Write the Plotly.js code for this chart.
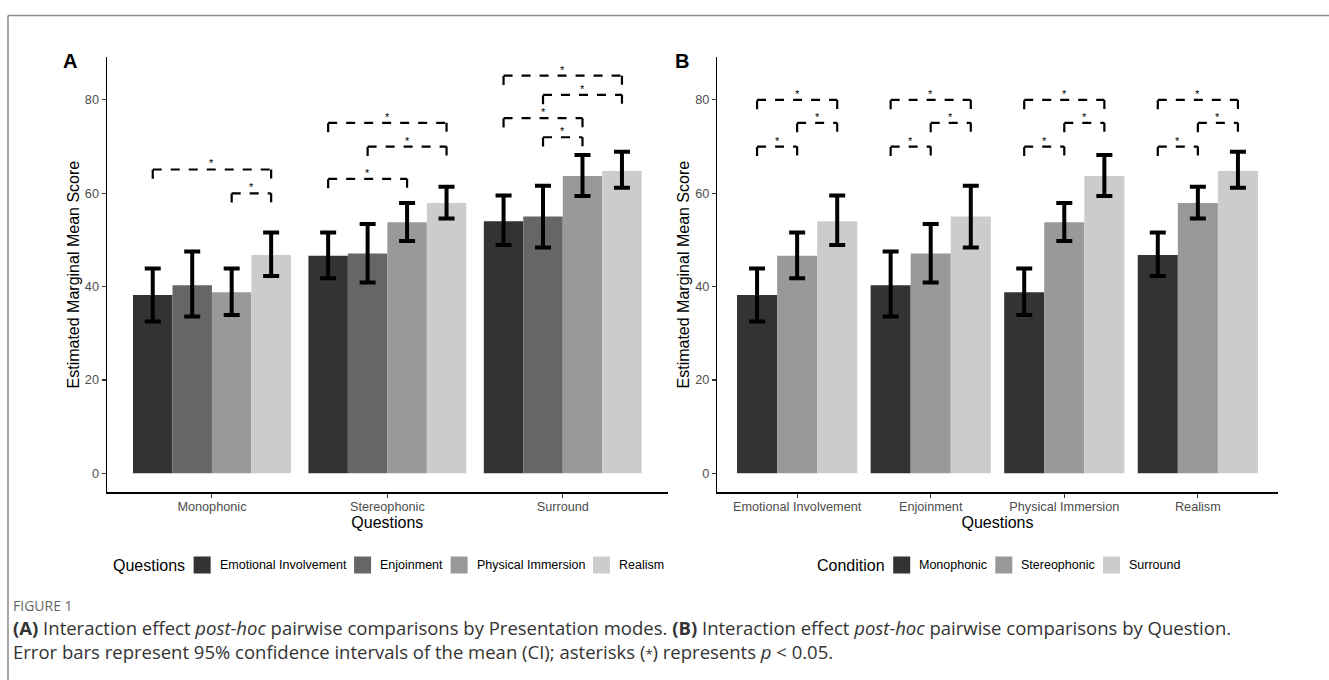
<!DOCTYPE html>
<html><head><meta charset="utf-8">
<script src="https://cdn.plot.ly/plotly-3.0.1.min.js"></script>
<style>html,body{margin:0;padding:0;background:#fff;} #chart{width:1329px;height:680px;}</style>
</head><body><div id="chart"></div>
<script>
// ---------- data ----------
const conditions = ["Monophonic", "Stereophonic", "Surround"];
const questions = ["Emotional Involvement", "Enjoinment", "Physical Immersion", "Realism"];

// estimated marginal means, one array per question, ordered by condition
const meanEmotional  = [38.2, 46.6, 54.0];
const meanEnjoinment = [40.3, 47.1, 55.0];
const meanPhysical   = [38.8, 53.8, 63.7];
const meanRealism    = [46.8, 57.9, 64.8];
// 95% CI bounds
const ciLowEmotional   = [32.5, 41.8, 48.9];
const ciLowEnjoinment  = [33.6, 40.9, 48.4];
const ciLowPhysical    = [33.9, 49.8, 59.4];
const ciLowRealism     = [42.3, 54.6, 61.2];
const ciHighEmotional  = [43.9, 51.6, 59.5];
const ciHighEnjoinment = [47.5, 53.4, 61.6];
const ciHighPhysical   = [43.9, 57.9, 68.2];
const ciHighRealism    = [51.6, 61.4, 68.9];

const yTicks = [0, 20, 40, 60, 80];

// significance brackets, panel A (group = condition, from/to = question index)
const bracketAGroup = [0, 0, 1, 1, 1, 2, 2, 2, 2];
const bracketAFrom  = [0, 2, 0, 1, 0, 0, 1, 0, 1];
const bracketATo    = [3, 3, 3, 3, 2, 3, 3, 2, 2];
const bracketAY     = [65.1, 60.0, 75.1, 70.0, 63.1, 85.2, 81.1, 76.1, 72.0];
// panel B (group = question, from/to = condition index)
const bracketBGroup = [0, 0, 0, 1, 1, 1, 2, 2, 2, 3, 3, 3];
const bracketBFrom  = [0, 1, 0, 0, 1, 0, 0, 1, 0, 0, 1, 0];
const bracketBTo    = [2, 2, 1, 2, 2, 1, 2, 2, 1, 2, 2, 1];
const bracketBY     = [80.0, 75.1, 70.0, 80.0, 75.1, 70.0, 80.0, 75.1, 70.0, 80.0, 75.1, 70.0];

// ---------- styles ----------
const questionColors  = ["#333333", "#666666", "#999999", "#cccccc"];
const conditionColors = ["#333333", "#999999", "#cccccc"];
const FONT = "Liberation Sans, Arial, sans-serif";
const W = 1329, H = 680;
const px = v => v / W;
const py = v => 1 - v / H;
const TIP = 2.0;   // bracket tip length (data units)

const means  = [meanEmotional, meanEnjoinment, meanPhysical, meanRealism];
const ciLow  = [ciLowEmotional, ciLowEnjoinment, ciLowPhysical, ciLowRealism];
const ciHigh = [ciHighEmotional, ciHighEnjoinment, ciHighPhysical, ciHighRealism];

const traces = [];
const errStyle = (hi, lo, m) => ({
  type: 'data', symmetric: false,
  array: hi.map((h, i) => h - m[i]),
  arrayminus: lo.map((l, i) => m[i] - l),
  color: '#000', thickness: 4, width: 8
});

// Panel A: x = condition, series = question
questions.forEach((q, qi) => {
  traces.push({
    type: 'bar', name: q, xaxis: 'x', yaxis: 'y',
    x: conditions.map((_, i) => i), y: means[qi],
    marker: {color: questionColors[qi], line: {width: 0}},
    error_y: errStyle(ciHigh[qi], ciLow[qi], means[qi]),
    showlegend: false, hoverinfo: 'skip'
  });
});
// Panel B: x = question, series = condition
conditions.forEach((c, ci) => {
  const m = means.map(arr => arr[ci]);
  const lo = ciLow.map(arr => arr[ci]);
  const hi = ciHigh.map(arr => arr[ci]);
  traces.push({
    type: 'bar', name: c, xaxis: 'x2', yaxis: 'y2',
    x: questions.map((_, i) => i), y: m,
    marker: {color: conditionColors[ci], line: {width: 0}},
    error_y: errStyle(hi, lo, m),
    showlegend: false, hoverinfo: 'skip'
  });
});

const annotations = [];
const barPos = (g, i, n) => g - 0.45 + 0.9 / n * (i + 0.5);
function addBrackets(groups, froms, tos, ys, n, xa, ya) {
  groups.forEach((g, k) => {
    const x1 = barPos(g, froms[k], n), x2 = barPos(g, tos[k], n), y = ys[k];
    traces.push({
      type: 'scatter', mode: 'lines', xaxis: xa, yaxis: ya,
      x: [x1, x1, null, x1, x2, null, x2, x2],
      y: [y - TIP, y, null, y, y, null, y, y - TIP],
      line: {color: '#000', width: 2.2, dash: '9px,9px'},
      connectgaps: false, showlegend: false, hoverinfo: 'skip'
    });
    annotations.push({
      xref: xa, yref: ya, x: (x1 + x2) / 2, y: y, text: '*', showarrow: false,
      xanchor: 'center', yanchor: 'bottom', borderpad: 0, yshift: -1,
      font: {family: FONT, size: 11, color: '#000'}
    });
  });
}
addBrackets(bracketAGroup, bracketAFrom, bracketATo, bracketAY, questions.length, 'x', 'y');
addBrackets(bracketBGroup, bracketBFrom, bracketBTo, bracketBY, conditions.length, 'x2', 'y2');

// ---------- axes ----------
const domYA = [py(492.3), py(57)];
const yAxisBase = {
  range: [-4.07, 89.2], tickvals: yTicks, ticks: 'outside', ticklen: 4, tickwidth: 1.1,
  tickcolor: '#333', showline: true, linecolor: '#000', linewidth: 1.2,
  showgrid: false, zeroline: false, tickfont: {family: FONT, size: 12.7, color: '#4d4d4d'},
  title: {text: 'Estimated Marginal Mean Score', font: {family: FONT, size: 16, color: '#000'}, standoff: 1},
  domain: domYA, fixedrange: true
};
const xAxisBase = {
  ticks: 'outside', ticklen: 4, tickwidth: 1.1, tickcolor: '#333',
  showline: true, linecolor: '#000', linewidth: 1.2, showgrid: false, zeroline: false,
  tickfont: {family: FONT, size: 12.7, color: '#4d4d4d'}, ticklabelstandoff: -2,
  title: {text: 'Questions', font: {family: FONT, size: 16, color: '#000'}, standoff: 0},
  fixedrange: true
};

// ---------- manual legends ----------
const shapes = [];
const cnv = document.createElement('canvas').getContext('2d');
function textW(t, size) { cnv.font = size + "px 'Liberation Sans', Arial"; return cnv.measureText(t).width; }
function buildLegend(title, labels, colors, centerX, cy) {
  const tw = textW(title, 16), box = 17, g1 = 10, g2 = 8, g3 = 9;
  const lw = labels.map(l => textW(l, 12.5));
  const total = tw + g1 + labels.length * (box + g2) + lw.reduce((a, b) => a + b, 0) + (labels.length - 1) * g3;
  let x = centerX - total / 2;
  annotations.push({xref: 'paper', yref: 'paper', x: px(x), y: py(cy), xanchor: 'left', yanchor: 'middle',
    text: title, showarrow: false, borderpad: 0, font: {family: FONT, size: 16, color: '#000'}});
  x += tw + g1;
  labels.forEach((l, i) => {
    shapes.push({type: 'rect', xref: 'paper', yref: 'paper', x0: px(x), x1: px(x + box),
      y0: py(cy + box / 2), y1: py(cy - box / 2), fillcolor: colors[i], line: {width: 0}});
    x += box + g2;
    annotations.push({xref: 'paper', yref: 'paper', x: px(x), y: py(cy), xanchor: 'left', yanchor: 'middle',
      text: l, showarrow: false, borderpad: 0, font: {family: FONT, size: 12.5, color: '#000'}});
    x += lw[i] + g3;
  });
}
buildLegend('Questions', questions, questionColors, (106.7 + 668) / 2, 565);
buildLegend('Condition', conditions, conditionColors, (717 + 1278) / 2, 565);

// panel letters
annotations.push({xref: 'paper', yref: 'paper', x: px(69.5), y: py(61), xanchor: 'center', yanchor: 'middle',
  text: '<b>A</b>', showarrow: false, font: {family: FONT, size: 20, color: '#000'}});
annotations.push({xref: 'paper', yref: 'paper', x: px(681.5), y: py(61), xanchor: 'center', yanchor: 'middle',
  text: '<b>B</b>', showarrow: false, font: {family: FONT, size: 20, color: '#000'}});

// caption
const CAP = "Open Sans, Noto Sans, sans-serif";
annotations.push({xref: 'paper', yref: 'paper', x: px(12), y: py(605), xanchor: 'left', yanchor: 'middle',
  text: 'FIGURE 1', showarrow: false, borderpad: 0, font: {family: CAP, size: 14, color: '#666'}});
annotations.push({xref: 'paper', yref: 'paper', x: px(12), y: py(639), xanchor: 'left', yanchor: 'middle', align: 'left',
  text: '<b>(A)</b> Interaction effect <i>post-hoc</i> pairwise comparisons by Presentation modes. <b>(B)</b> Interaction effect <i>post-hoc</i> pairwise comparisons by Question.' +
        '<br>Error bars represent 95% confidence intervals of the mean (CI); asterisks (<span style="font-size:13px">*</span>) represents <i>p</i> &lt; 0.05.',
  showarrow: false, borderpad: 0, font: {family: CAP, size: 18.5, color: '#333'}});

// figure frame
shapes.push({type: 'line', xref: 'paper', yref: 'paper', x0: px(8), x1: 1, y0: py(15.5), y1: py(15.5), line: {color: '#8a8a8a', width: 1.5}});
shapes.push({type: 'line', xref: 'paper', yref: 'paper', x0: px(8), x1: px(8), y0: py(15.5), y1: 0, line: {color: '#8a8a8a', width: 1.5}});

const layout = {
  width: W, height: H, margin: {l: 0, r: 0, t: 0, b: 0},
  paper_bgcolor: '#fff', plot_bgcolor: '#fff',
  barmode: 'group', bargap: 0.1, bargroupgap: 0,
  showlegend: false,
  xaxis: Object.assign({}, xAxisBase, {domain: [px(106.7), px(668)], range: [-0.6, conditions.length - 0.4],
    tickvals: conditions.map((_, i) => i), ticktext: conditions, anchor: 'y'}),
  yaxis: Object.assign({}, yAxisBase, {anchor: 'x'}),
  xaxis2: Object.assign({}, xAxisBase, {domain: [px(717), px(1278)], range: [-0.6, questions.length - 0.4],
    tickvals: questions.map((_, i) => i), ticktext: questions, anchor: 'y2'}),
  yaxis2: Object.assign({}, yAxisBase, {anchor: 'x2'}),
  annotations: annotations, shapes: shapes
};
Plotly.newPlot('chart', traces, layout, {staticPlot: true, displayModeBar: false});
</script></body></html>
